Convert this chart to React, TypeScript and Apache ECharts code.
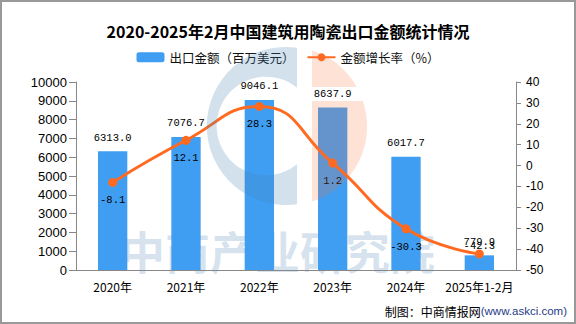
import React, { useEffect, useRef } from "react";
import * as echarts from "echarts";

const categories = ["2020年", "2021年", "2022年", "2023年", "2024年", "2025年1-2月"];
const exportValues = [6313.0, 7076.7, 9046.1, 8637.9, 6017.7, 779.9];
const growthRates = [-8.1, 12.1, 28.3, 1.2, -30.3, -42.3];
const barName = "出口金额（百万美元）";
const lineName = "金额增长率（%）";
const titleText = "2020-2025年2月中国建筑用陶瓷出口金额统计情况";

const LOGO_C =
  "M297,47.8 A79,79 0 1,0 297,204.2 L297,164.3 A49.3,49.3 0 1,1 297,87.7 Z";
const LOGO_DOT = "M312,50.4 A79,79 0 0,1 356.7,87 L312,87 Z";
const LOGO_STEM = "M312,101 L362.9,101 A79,79 0 0,1 312,201.6 Z";

let registered = false;
function registerShapes() {
  if (registered) return;
  registered = true;
  echarts.graphic.registerShape("logoC", echarts.graphic.extendPath(LOGO_C, {}) as any);
  echarts.graphic.registerShape("logoDot", echarts.graphic.extendPath(LOGO_DOT, {}) as any);
  echarts.graphic.registerShape("logoStem", echarts.graphic.extendPath(LOGO_STEM, {}) as any);
}

export default function App() {
  const ref = useRef<HTMLDivElement>(null);
  useEffect(() => {
    if (!ref.current) return;
    registerShapes();
    const chart = echarts.init(ref.current, undefined, { renderer: "svg" });
    const labelFont = {
      color: "#000",
      fontFamily: "Liberation Mono",
      fontSize: 10.5,
    };
    chart.setOption({
      animation: false,
      backgroundColor: "#fff",
      title: {
        text: titleText,
        left: "center",
        top: 18,
        textStyle: {
          fontSize: 16,
          fontWeight: "bold",
          color: "#000",
          fontFamily: "Noto Sans CJK SC",
        },
      },
      legend: {
        top: 46,
        left: "center",
        itemWidth: 28,
        itemHeight: 10,
        itemGap: 12,
        textStyle: { fontSize: 12.5, color: "#111", fontFamily: "Noto Sans CJK SC" },
        data: [barName, lineName],
      },
      grid: { left: 76, right: 60, top: 82, bottom: 54, containLabel: false },
      xAxis: {
        type: "category",
        data: categories,
        axisLine: { lineStyle: { color: "#888" } },
        axisTick: { length: 5, lineStyle: { color: "#888" } },
        axisLabel: {
          interval: 0,
          color: "#000",
          fontSize: 12,
          margin: 10,
          fontFamily: "Noto Sans CJK SC",
        },
      },
      yAxis: [
        {
          type: "value",
          min: 0,
          max: 10000,
          interval: 1000,
          axisLine: { show: true, lineStyle: { color: "#888" } },
          axisTick: { show: true, length: 7, lineStyle: { color: "#888" } },
          splitLine: { show: false },
          axisLabel: {
            color: "#000",
            fontSize: 13,
            margin: 9,
            fontFamily: "Liberation Sans",
            formatter: (v: number) => String(v),
          },
        },
        {
          type: "value",
          min: -50,
          max: 40,
          interval: 10,
          axisLine: { show: true, lineStyle: { color: "#888" } },
          axisTick: { show: true, length: 5, lineStyle: { color: "#888" } },
          splitLine: { show: false },
          axisLabel: {
            color: "#000",
            fontSize: 12,
            margin: 10,
            fontFamily: "Liberation Sans",
            formatter: (v: number) => String(v),
          },
        },
      ],
      series: [
        {
          name: barName,
          type: "bar",
          data: exportValues,
          barWidth: "40%",
          itemStyle: { color: "#3f9ef2" },
          label: {
            show: true,
            position: "top",
            distance: 8,
            formatter: (p: any) => Number(p.value).toFixed(1),
            ...labelFont,
          },
        },
        {
          name: lineName,
          type: "line",
          yAxisIndex: 1,
          smooth: true,
          data: growthRates.map((v, i) =>
            i === growthRates.length - 1
              ? { value: v, label: { position: "top", distance: -2 } }
              : v
          ),
          symbol: "circle",
          symbolSize: 9,
          lineStyle: { color: "#ff6a20", width: 3 },
          itemStyle: { color: "#ff6a20" },
          label: {
            show: true,
            position: "bottom",
            distance: 8,
            formatter: (p: any) => Number(p.value).toFixed(1),
            ...labelFont,
          },
        },
      ],
      graphic: [
        {
          type: "text",
          z: -10,
          silent: true,
          style: {
            text: "中商产业研究院",
            x: 120,
            y: 250,
            verticalAlign: "middle",
            font: "bold 45px 'Noto Sans CJK SC'",
            fill: "rgba(70,130,180,0.22)",
          },
        },
        {
          type: "logoC",
          x: 0,
          y: 0,
          z: 100,
          silent: true,
          style: { fill: "rgba(70,130,180,0.24)" },
        },
        {
          type: "logoDot",
          x: 0,
          y: 0,
          z: 100,
          silent: true,
          style: { fill: "rgba(250,110,50,0.2)" },
        },
        {
          type: "logoStem",
          x: 0,
          y: 0,
          z: 100,
          silent: true,
          style: { fill: "rgba(250,110,50,0.2)" },
        },
        {
          type: "text",
          z: 100,
          style: {
            text: "{a|制图：中商情报网}{b|(www.askci.com)}",
            x: 567,
            y: 311,
            align: "right",
            verticalAlign: "middle",
            rich: {
              a: { fontSize: 12, fill: "#000", fontFamily: "Noto Sans CJK SC" },
              b: { fontSize: 11.5, fill: "#1f3c88", fontFamily: "Liberation Sans" },
            },
          },
        },
        {
          type: "rect",
          z: 100,
          silent: true,
          shape: { x: 1, y: 1, width: 574, height: 322 },
          style: { fill: "none", stroke: "#999", lineWidth: 2 },
        },
      ],
    });
    return () => chart.dispose();
  }, []);
  return (
    <div
      ref={ref}
      style={{ position: "fixed", left: 0, top: 0, width: 576, height: 324 }}
    />
  );
}
